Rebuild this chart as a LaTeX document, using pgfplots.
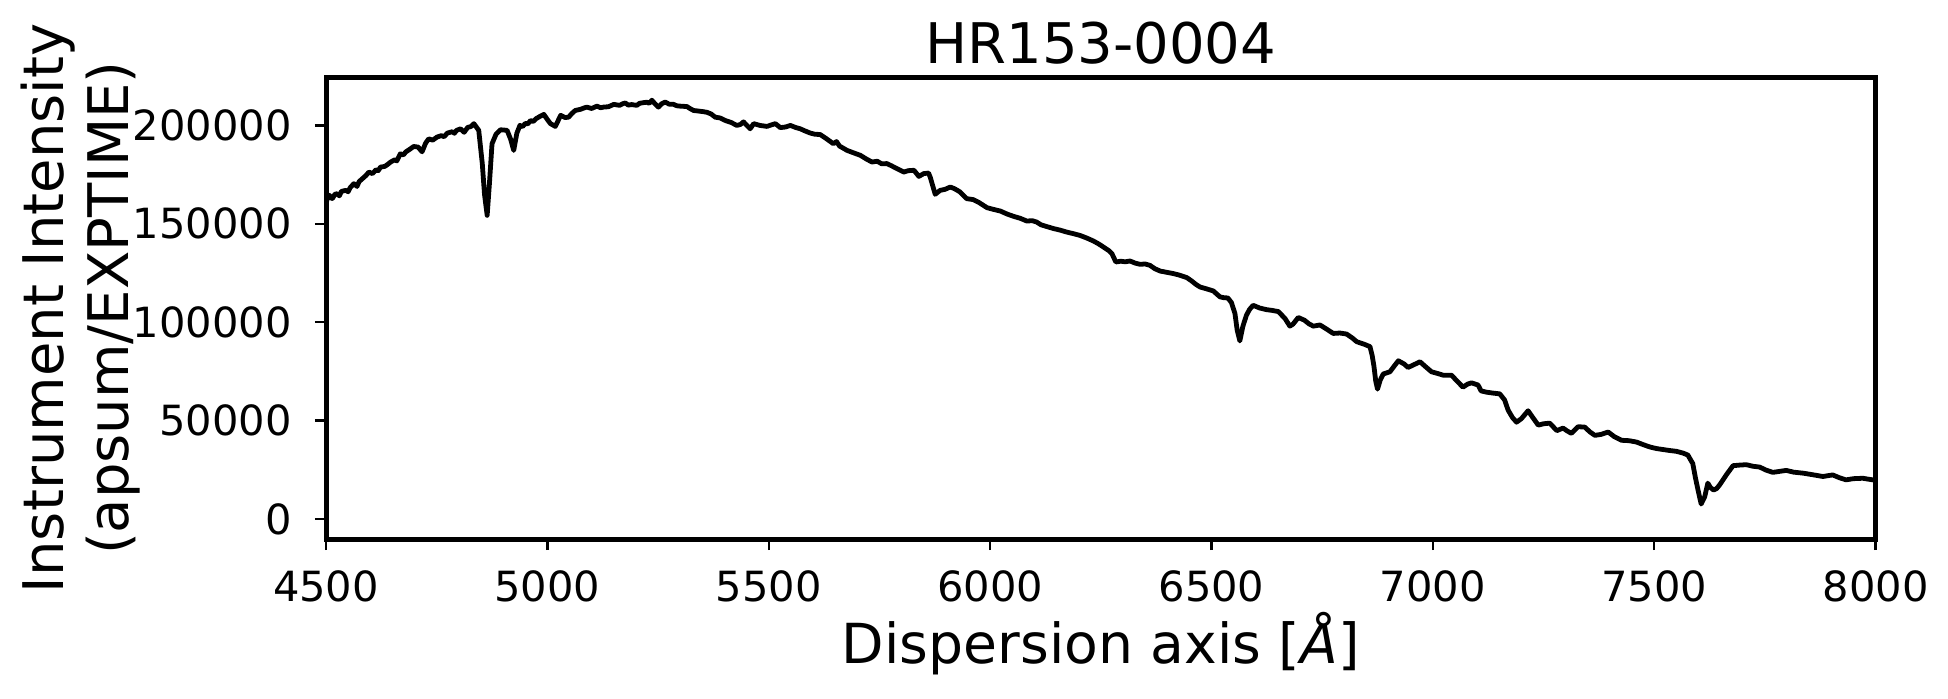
\documentclass[border=0pt]{standalone}
\usepackage{fontspec}
\setmainfont{DejaVu Sans}
\usepackage{pgfplots}
\usepackage{pgfplotstable}
\pgfplotsset{compat=1.18}
\pgfplotstableread{
x y
4500 160500
4504 163500
4508 164500
4512 162800
4515 163000
4520 165000
4525 165300
4530 164200
4535 166500
4545 167000
4550 166300
4555 168500
4563 170400
4570 169000
4575 171500
4580 172500
4590 174500
4597 176300
4605 175500
4613 177500
4618 177000
4623 178800
4633 179200
4640 180300
4646 181400
4655 182500
4660 182000
4668 185600
4675 185000
4680 186500
4690 188000
4698 189300
4708 189000
4717 186600
4725 191000
4732 193200
4741 192500
4751 194100
4760 194800
4767 194300
4774 196100
4785 196800
4790 196000
4795 197500
4804 198300
4812 196500
4820 199000
4827 199400
4834 200900
4845 197500
4853 180600
4858 165000
4864 154300
4869 170000
4875 190700
4884 195500
4894 197800
4909 197500
4917 193000
4924 187300
4931 196000
4938 200000
4944 199400
4950 201000
4956 200800
4962 202500
4968 202000
4975 203500
4985 204800
4992 205600
5000 203000
5007 200900
5018 199500
5030 205100
5040 204000
5048 204200
5055 206000
5063 207600
5075 208200
5082 208800
5089 209300
5100 208600
5112 209800
5120 209000
5127 209300
5138 209500
5150 210700
5163 210200
5170 211000
5176 211400
5183 210300
5190 210600
5202 210200
5208 211200
5215 211500
5225 211800
5230 211200
5236 212800
5243 211000
5251 209300
5258 211000
5266 211900
5275 210800
5285 210700
5292 210000
5300 209800
5315 209600
5322 208600
5330 207600
5345 207200
5352 207000
5360 206700
5370 205800
5379 204200
5390 203800
5402 202500
5415 201500
5428 200000
5436 200500
5443 201800
5458 198300
5466 200900
5480 200000
5496 199500
5505 200200
5515 200900
5526 198900
5538 199200
5549 200000
5560 199000
5571 198300
5582 197200
5594 196100
5605 195500
5616 195400
5628 193600
5646 190700
5653 191800
5660 189500
5677 187300
5690 186200
5707 184800
5720 183000
5733 181400
5745 181800
5755 180500
5767 180600
5778 179400
5790 178000
5805 176300
5815 177000
5828 177200
5839 174100
5850 175500
5861 175800
5865 173500
5869 170400
5876 165000
5887 167000
5898 167500
5910 168700
5920 167800
5932 166200
5947 162800
5962 162300
5975 160800
5993 158200
6008 157300
6023 156500
6038 155000
6053 153800
6068 152800
6083 151400
6095 151600
6105 150900
6115 149500
6128 148600
6143 147600
6158 146800
6173 145800
6188 145000
6203 144100
6218 142800
6233 141300
6245 139800
6256 138200
6268 136400
6275 134900
6280 132500
6284 130600
6295 131000
6305 130700
6316 131100
6328 130000
6339 129400
6350 129600
6361 128900
6372 127200
6384 126000
6398 125400
6414 124700
6428 123900
6444 122700
6455 121000
6465 119200
6474 117900
6488 117000
6504 115900
6519 112900
6527 112500
6537 112300
6545 110000
6553 104400
6558 96000
6564 90500
6571 98000
6579 103600
6586 106500
6594 108600
6609 107200
6624 106400
6637 106000
6651 105400
6666 101900
6677 98000
6684 99000
6696 102400
6710 101000
6720 99200
6730 98000
6745 98600
6760 96500
6775 94300
6790 94500
6805 94000
6818 92000
6828 90100
6845 88800
6858 87600
6863 83000
6867 77500
6871 70000
6875 66000
6881 70500
6888 73700
6903 74800
6912 77500
6922 80400
6935 78800
6944 77000
6958 78500
6971 79900
6984 77300
6997 74800
7010 74000
7023 73100
7042 73100
7055 70000
7068 67000
7078 68500
7087 69200
7102 68100
7109 65100
7120 64500
7135 64000
7151 63600
7162 60500
7170 55300
7180 51500
7189 49200
7200 51000
7215 55000
7225 51800
7238 47700
7250 48400
7264 48700
7280 44900
7294 46200
7303 44800
7313 43500
7328 46900
7343 46700
7355 44200
7366 42500
7380 43000
7396 44200
7410 41800
7426 40000
7443 39800
7460 39100
7475 37800
7490 36600
7505 35800
7520 35300
7535 34800
7550 34400
7565 33500
7576 32500
7581 30500
7587 28200
7593 21000
7599 14600
7606 7600
7614 11300
7621 18200
7627 16000
7634 14700
7641 15500
7648 17400
7663 22500
7678 27100
7693 27400
7708 27600
7723 26800
7738 26400
7753 24800
7768 23700
7783 24200
7798 24700
7815 23800
7836 23300
7858 22500
7881 21600
7903 22400
7918 21000
7933 19900
7950 20500
7971 20700
7993 19900
8000 19800
}\spec
\begin{document}
\begin{tikzpicture}
\begin{axis}[
  at={(0pt,0pt)}, anchor=south west,
  scale only axis, width=387.4pt, height=115.4pt,
  xmin=4500, xmax=8000, ymin=-10165, ymax=224400,
  xtick={4500,5000,5500,6000,6500,7000,7500,8000},
  ytick={0,50000,100000,150000,200000},
  scaled ticks=false,
  tick align=outside, tick pos=left,
  major tick length=2.8pt,
  every tick/.append style={line width=0.6pt, black},
  /pgf/number format/fixed, /pgf/number format/precision=0,
  /pgf/number format/1000 sep={}, /pgf/number format/assume math mode=true,
  ticklabel style={font=\fontsize{10.4}{12}\selectfont},
  xticklabel style={anchor=base, yshift=-12.9pt},
  yticklabel style={anchor=east, inner sep=0pt, xshift=-5.6pt},
]
\addplot[black, line width=1.2pt, line join=round] table {\spec};
\end{axis}
\draw[line width=1.25pt] (0pt,0pt) rectangle (387.4pt,115.4pt);
\node[anchor=base, font=\fontsize{14}{17}\selectfont] at (193.7pt,118.9pt) {HR153-0004};
\node[anchor=base, font=\fontsize{13.8}{17}\selectfont] at (193.7pt,-31.1pt) {Dispersion axis [{\itshape Å}]};
\node[rotate=90, anchor=base, font=\fontsize{14}{17}\selectfont] at (-65.7pt,57.7pt) {Instrument Intensity};
\node[rotate=90, anchor=base, font=\fontsize{14}{17}\selectfont] at (-49.4pt,57.7pt) {(apsum/EXPTIME)};
\pgfresetboundingbox
\path[use as bounding box] (-81.5pt,-39.75pt) rectangle (405.5pt,134.75pt);
\end{tikzpicture}
\end{document}
